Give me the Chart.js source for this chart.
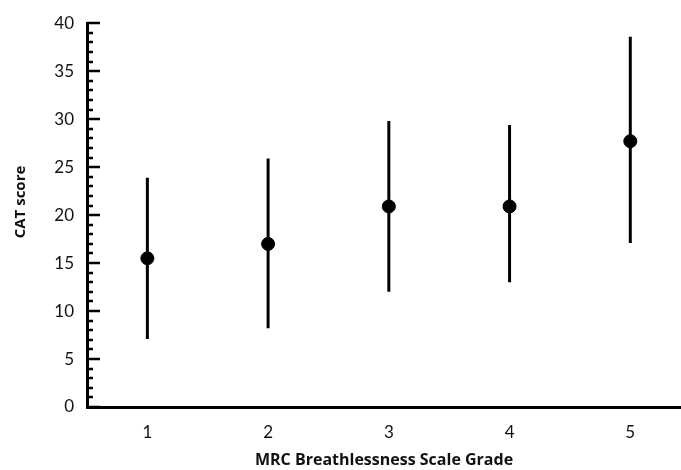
<!DOCTYPE html>
<html>
<head>
<meta charset="utf-8">
<script src="https://cdn.jsdelivr.net/npm/chart.js@4/dist/chart.umd.min.js"></script>
<style>
html,body{margin:0;padding:0;background:#fff;}
#wrap{width:681px;height:470px;position:relative;}
</style>
</head>
<body>
<div id="wrap"><canvas id="c" width="681" height="470"></canvas></div>
<script>
const grades = [1, 2, 3, 4, 5];
const means = [15.5, 17.0, 20.9, 20.9, 27.7];
const lower = [7.1, 8.2, 12.0, 13.0, 17.1];
const upper = [23.9, 25.9, 29.8, 29.4, 38.6];
const yTickValues = [0, 5, 10, 15, 20, 25, 30, 35, 40];
const xTickValues = [1, 2, 3, 4, 5];
const xTitle = 'MRC Breathlessness Scale Grade';
const yTitle = 'CAT score';

const errDatasets = grades.map((g, i) => ({
  type: 'line',
  data: [{x: g, y: lower[i]}, {x: g, y: upper[i]}],
  borderColor: '#000',
  borderWidth: 3,
  pointRadius: 0,
  borderCapStyle: 'butt',
  order: 2
}));

const innerTicks = {
  id: 'innerTicks',
  afterDraw(chart) {
    const ctx = chart.ctx;
    const y = chart.scales.y;
    const left = chart.chartArea.left;
    ctx.save();
    ctx.strokeStyle = '#000';
    ctx.lineWidth = 2.5;
    for (let v = 0; v <= 40; v++) {
      const py = Math.round(y.getPixelForValue(v));
      const len = (v % 5 === 0) ? 13 : 6;
      ctx.beginPath();
      ctx.moveTo(left, py);
      ctx.lineTo(left + len, py);
      ctx.stroke();
    }
    // y axis title
    ctx.fillStyle = '#111';
    ctx.font = 'bold 15px "Open Sans"';
    ctx.textAlign = 'center';
    ctx.textBaseline = 'middle';
    ctx.translate(21, 202);
    ctx.rotate(-Math.PI / 2);
    ctx.fillText(yTitle, 0, 0);
    ctx.restore();
  }
};

new Chart(document.getElementById('c'), {
  type: 'scatter',
  data: {
    datasets: [{
      data: grades.map((g, i) => ({x: g, y: means[i]})),
      backgroundColor: '#000',
      borderColor: '#000',
      pointRadius: 6.5,
      pointHoverRadius: 6.5,
      order: 0
    }, ...errDatasets]
  },
  options: {
    responsive: false,
    animation: false,
    events: [],
    layout: {autoPadding: false, padding: {top: 21, right: 0, left: 0, bottom: 0}},
    plugins: {legend: {display: false}, tooltip: {enabled: false}},
    scales: {
      x: {
        type: 'linear',
        min: 0.5,
        max: 5.42,
        afterBuildTicks(s) { s.ticks = xTickValues.map(v => ({value: v})); },
        afterFit(s) { s.height = 63; },
        grid: {display: false, drawTicks: false},
        border: {display: true, color: '#000', width: 3},
        ticks: {
          padding: 15,
          color: '#111',
          font: {family: 'Lato', size: 17},
          callback: v => String(v)
        },
        title: {
          display: true,
          text: xTitle,
          color: '#111',
          font: {family: 'Open Sans', size: 16, weight: 'bold'},
          padding: {top: 1, bottom: 0}
        }
      },
      y: {
        min: 0,
        max: 40,
        afterBuildTicks(s) { s.ticks = yTickValues.map(v => ({value: v})); },
        afterFit(s) { s.width = 87; },
        grid: {display: false, drawTicks: false},
        border: {display: true, color: '#000', width: 3},
        ticks: {
          padding: 13,
          color: '#111',
          font: {family: 'Lato', size: 17}
        },
        title: {display: false}
      }
    }
  },
  plugins: [innerTicks]
});
</script>
</body>
</html>
